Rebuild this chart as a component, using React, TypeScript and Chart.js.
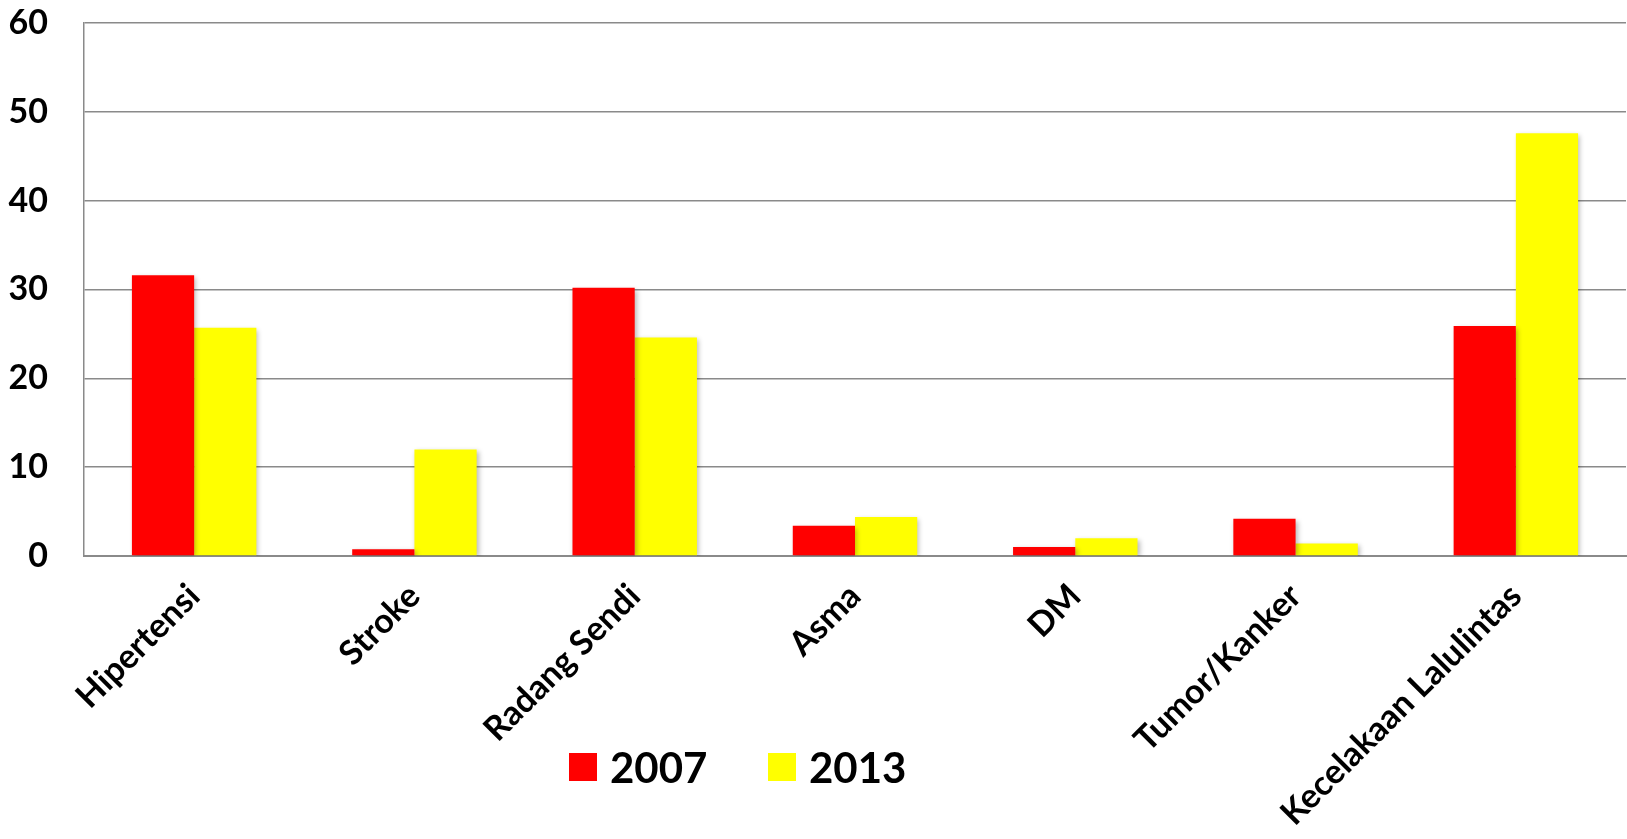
import React, { useEffect, useRef } from "react";
import { Chart, registerables } from "chart.js";

Chart.register(...registerables);

const categories = [
  "Hipertensi",
  "Stroke",
  "Radang Sendi",
  "Asma",
  "DM",
  "Tumor/Kanker",
  "Kecelakaan Lalulintas",
];
const series2007 = [31.6, 0.75, 30.2, 3.4, 1.0, 4.2, 25.9];
const series2013 = [25.7, 12.0, 24.6, 4.4, 2.0, 1.4, 47.6];
const seriesLabels = ["2007", "2013"];
const seriesColors = ["#FF0000", "#FFFF00"];
const yTicks = [0, 10, 20, 30, 40, 50, 60];

const FONT = "Lato, 'Noto Sans', sans-serif";

const shadowPlugin = {
  id: "barShadow",
  beforeDatasetsDraw(chart: any) {
    const ctx = chart.ctx;
    ctx.save();
    ctx.shadowColor = "rgba(0,0,0,0.28)";
    ctx.shadowBlur = 5;
    ctx.shadowOffsetX = 2;
    ctx.shadowOffsetY = 2;
  },
  afterDatasetsDraw(chart: any) {
    chart.ctx.restore();
  },
};

export default function App() {
  const canvasRef = useRef<HTMLCanvasElement | null>(null);

  useEffect(() => {
    if (!canvasRef.current) return;
    const chart = new Chart(canvasRef.current, {
      type: "bar",
      data: {
        labels: categories,
        datasets: [
          {
            label: seriesLabels[0],
            data: series2007,
            backgroundColor: seriesColors[0],
            borderWidth: 0,
          },
          {
            label: seriesLabels[1],
            data: series2013,
            backgroundColor: seriesColors[1],
            borderWidth: 0,
          },
        ],
      },
      options: {
        animation: false,
        responsive: true,
        maintainAspectRatio: false,
        layout: { padding: { top: 23, right: 1, left: 0, bottom: 0 } },
        datasets: {
          bar: { categoryPercentage: 0.565, barPercentage: 1.0 },
        },
        plugins: {
          legend: { display: false },
          tooltip: { enabled: false },
        },
        scales: {
          x: {
            grid: { display: false, drawTicks: false },
            border: { display: true, color: "#8a8a8a", width: 2 },
            ticks: {
              color: "#000",
              font: { family: FONT, size: 34, weight: "bold" },
              maxRotation: 45,
              minRotation: 45,
              padding: 20,
              autoSkip: false,
            },
            afterFit(scale: any) {
              scale.height = 839 - 556;
            },
          },
          y: {
            min: 0,
            max: 60,
            afterBuildTicks(scale: any) {
              scale.ticks = yTicks.map((v) => ({ value: v }));
            },
            grid: { color: "#8a8a8a", lineWidth: 1.5, drawTicks: false },
            border: { display: true, color: "#8a8a8a", width: 1.5 },
            ticks: {
              color: "#000",
              font: { family: FONT, size: 34, weight: "bold" },
              padding: 36,
            },
            afterFit(scale: any) {
              scale.width = 84;
              scale.paddingTop = 0;
              scale.paddingBottom = 0;
            },
          },
        },
      },
      plugins: [shadowPlugin],
    });
    return () => chart.destroy();
  }, []);

  const legendLefts = [569, 768];

  return (
    <div
      style={{
        position: "fixed",
        left: 0,
        top: 0,
        width: "100vw",
        height: "100vh",
        background: "#fff",
      }}
    >
      <canvas ref={canvasRef} />
      {seriesLabels.map((lab, i) => (
        <div
          key={lab}
          style={{
            position: "absolute",
            left: legendLefts[i],
            top: 745,
            display: "flex",
            alignItems: "center",
            fontFamily: FONT,
            fontWeight: "bold",
            fontSize: 42,
            lineHeight: "44px",
            color: "#000",
          }}
        >
          <span
            style={{
              display: "inline-block",
              width: 28,
              height: 28,
              background: seriesColors[i],
              marginRight: 13,
            }}
          />
          <span>{lab}</span>
        </div>
      ))}
    </div>
  );
}
